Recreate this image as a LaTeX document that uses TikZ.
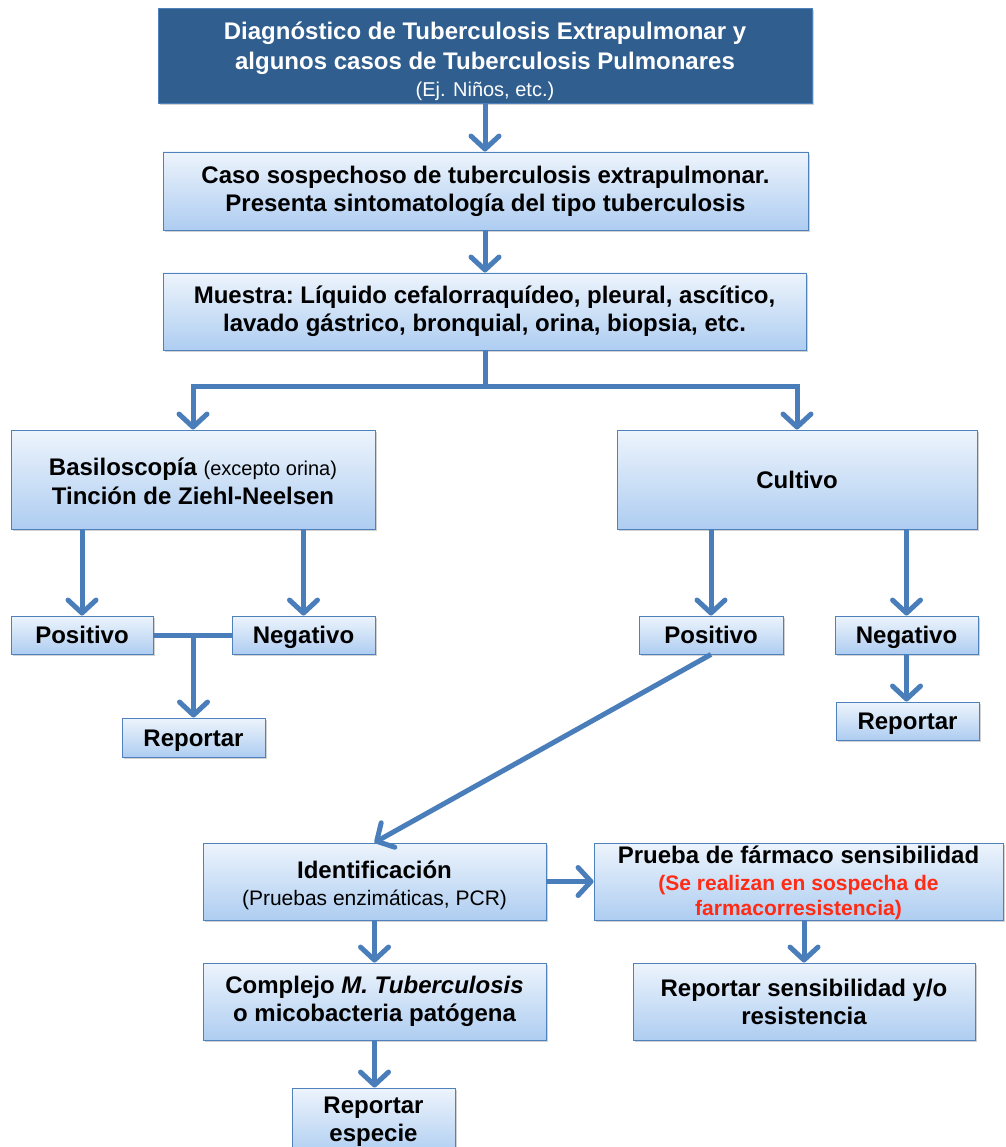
\documentclass[tikz,border=0pt]{standalone}
\usepackage{fontspec}
\setmainfont{Liberation Sans}
\usetikzlibrary{arrows.meta,shadows,calc}
\definecolor{arrblue}{HTML}{4A7EBB}
\definecolor{boxedge}{HTML}{4F81BD}
\definecolor{topfill}{HTML}{2F5E8F}
\definecolor{gradtop}{HTML}{EDF4FC}
\definecolor{gradbot}{HTML}{AECDF1}
\definecolor{redtxt}{HTML}{FF2B14}
\tikzset{
  box/.style={draw=boxedge, line width=0.9pt, top color=gradtop, bottom color=gradbot,
    drop shadow={shadow xshift=2pt, shadow yshift=-2pt, opacity=0.35},
    align=center, inner sep=0pt, font=\bfseries\fontsize{24}{28}\selectfont},
  topbox/.style={draw=boxedge, line width=0.9pt, fill=topfill, text=white,
    drop shadow={shadow xshift=2pt, shadow yshift=-2pt, opacity=0.35},
    align=center, inner sep=0pt, font=\bfseries\fontsize{24}{30}\selectfont},
  sl/.style={text height=17pt, text depth=0pt},
  ln/.style={draw=arrblue, line width=5pt},
  arr/.style={ln, -{Straight Barb[length=13pt,width=28pt,line width=5pt,round]}},
}
\newcommand{\bx}[6]{\node[#1, minimum width=#4-#2, minimum height=#5-#3] (#6) at ({(#2+#4)/2},{(#3+#5)/2})}
\newcommand{\redl}[1]{{\color{redtxt}\fontsize{21}{25}\selectfont #1}}
\newcommand{\smalltxt}[2]{{\mdseries\fontsize{#1}{#1}\selectfont #2}}
\newcommand{\pad}[1]{\rule{0pt}{#1}}
\begin{document}
\begin{tikzpicture}[x=1pt,y=-1pt]
\useasboundingbox[fill=white] (0,0) rectangle (1005,1147);

\bx{topbox}{158}{8}{812}{103}{top} {\pad{30pt}Diagnóstico de Tuberculosis Extrapulmonar y\\algunos casos de Tuberculosis Pulmonares\\[-3pt]\smalltxt{20}{(Ej. Niños, etc.)}};
\bx{box}{163}{152}{808}{230}{caso} {Caso sospechoso de tuberculosis extrapulmonar.\\Presenta sintomatología del tipo tuberculosis};
\bx{box}{163}{273}{806}{350}{mues} {Muestra:\ Líquido cefalorraquídeo, pleural, ascítico,\\lavado gástrico, bronquial, orina, biopsia, etc.};
\bx{box}{11}{430}{375}{529}{bas} {\pad{22pt}Basiloscopía \smalltxt{20}{(excepto orina)}\\[1pt]Tinción de Ziehl-Neelsen};
\bx{box,sl}{617}{430}{977}{529}{cul} {Cultivo};
\bx{box,sl}{11}{616}{153}{654}{posL} {Positivo};
\bx{box,sl}{232}{616}{375}{654}{negL} {Negativo};
\bx{box,sl}{122}{718}{265}{757}{repL} {Reportar};
\bx{box,sl}{639}{616}{783}{654}{posR} {Positivo};
\bx{box,sl}{835}{616}{978}{654}{negR} {Negativo};
\bx{box,sl}{836}{702}{979}{740}{repR} {Reportar};
\bx{box}{203}{843}{546}{920}{ide} {\pad{25pt}Identificación\\[-1pt]\smalltxt{21}{(Pruebas enzimáticas,\ PCR)}};
\bx{box}{594}{843}{1003}{920}{pru} {\pad{20pt}Prueba de fármaco sensibilidad\\[-1pt]\redl{(Se realizan en sospecha de}\\[-3pt]\redl{farmacorresistencia)}};
\bx{box}{203}{963}{546}{1040}{comp} {Complejo \textit{M. Tuberculosis}\\o micobacteria patógena};
\bx{box}{633}{963}{975}{1040}{rsens} {Reportar sensibilidad y/o\\resistencia};
\bx{box}{292}{1088}{455}{1156}{resp} {Reportar\\especie};

% connectors
\draw[arr] (top.south) -- (top.south |- caso.north);
\draw[arr] (caso.south -| top.south) -- (mues.north -| top.south);
\coordinate (j) at (485,386);
\draw[ln] (mues.south -| j) -- (j);
\draw[arr] ([xshift=2.5pt]j) -| (bas.north);
\draw[arr] ([xshift=-2.5pt]j) -| (cul.north);
\draw[arr] (posL.north |- bas.south) -- (posL.north);
\draw[arr] (negL.north |- bas.south) -- (negL.north);
\draw[ln] (posL.east) -- (negL.west);
\draw[arr] (repL.north |- posL.east) -- (repL.north);
\draw[arr] (posR.north |- cul.south) -- (posR.north);
\draw[arr] (negR.north |- cul.south) -- (negR.north);
\draw[arr] (negR.south) -- (negR.south |- repR.north);
\draw[arr] (posR.south) -- (ide.north);
\draw[arr] (ide.east) -- (pru.west);
\draw[arr] (ide.south) -- (ide.south |- comp.north);
\draw[arr] (comp.south) -- (comp.south |- resp.north);
\draw[arr] (rsens.north |- pru.south) -- (rsens.north);
\end{tikzpicture}
\end{document}
